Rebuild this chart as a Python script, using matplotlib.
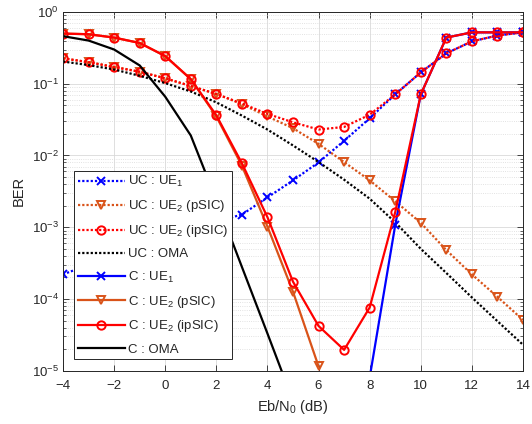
import numpy as np
import matplotlib
matplotlib.use("Agg")
import matplotlib.pyplot as plt
from matplotlib.ticker import FixedLocator, FuncFormatter, LogLocator, NullFormatter

plt.rcParams['font.family'] = ['Liberation Sans', 'DejaVu Sans']
plt.rcParams['mathtext.fontset'] = 'custom'
plt.rcParams['mathtext.rm'] = 'Liberation Sans'
plt.rcParams['mathtext.it'] = 'Liberation Sans:italic'
plt.rcParams['mathtext.bf'] = 'Liberation Sans:bold'

nan = np.nan
ebn0 = np.arange(-4, 15)

uc_ue1 = [2.2e-4, 3.0e-4, 4.0e-4, 5.3e-4, 7.0e-4, 9.0e-4, 1.2e-3, 1.5e-3, 2.6e-3, 4.5e-3,
          8.0e-3, 1.6e-2, 3.3e-2, 7.1e-2, 0.144, 0.265, 0.39, 0.47, 0.52]
uc_ue2_psic = [0.226, 0.20, 0.173, 0.147, 0.119, 0.093, 0.072, 0.052, 0.035, 0.024,
               0.0145, 0.0081, 0.0045, 0.0023, 1.15e-3, 4.8e-4, 2.2e-4, 1.07e-4, 5.1e-5]
uc_ue2_ipsic = [0.226, 0.20, 0.17, 0.147, 0.119, 0.093, 0.072, 0.053, 0.038, 0.029,
                0.023, 0.025, 0.037, 0.071, 0.144, 0.265, 0.39, 0.47, 0.52]
uc_oma = [0.204, 0.182, 0.158, 0.129, 0.102, 0.078, 0.055, 0.036, 0.023, 0.0138,
          0.0081, 0.0046, 0.0025, 1.17e-3, 5.0e-4, 2.3e-4, 1.05e-4, 4.9e-5, 2.3e-5]
c_ue1 = [nan, nan, nan, nan, nan, nan, nan, nan, nan, nan, nan, nan,
         8.0e-6, 1.07e-3, 0.071, 0.44, 0.52, 0.52, 0.52]
c_ue2_psic = [0.50, 0.49, 0.44, 0.37, 0.243, 0.116, 0.035, 7.2e-3, 1.02e-3, 1.26e-4,
              1.15e-5, nan, nan, nan, nan, nan, nan, nan, nan]
c_ue2_ipsic = [0.50, 0.49, 0.44, 0.37, 0.243, 0.116, 0.0363, 7.8e-3, 1.38e-3, 1.74e-4,
               4.2e-5, 1.95e-5, 7.6e-5, 1.62e-3, 0.071, 0.44, 0.52, 0.52, 0.52]
c_oma = [0.46, 0.40, 0.30, 0.18, 0.066, 0.019, 2.4e-3, 2.8e-4, 3.3e-5, 3.8e-6,
         nan, nan, nan, nan, nan, nan, nan, nan, nan]

labels = ['UC : UE$_1$', 'UC : UE$_2$ (pSIC)', 'UC : UE$_2$ (ipSIC)', 'UC : OMA',
          'C : UE$_1$', 'C : UE$_2$ (pSIC)', 'C : UE$_2$ (ipSIC)', 'C : OMA']
xticks = [-4, -2, 0, 2, 4, 6, 8, 10, 12, 14]
yticks = [1e-5, 1e-4, 1e-3, 1e-2, 1e-1, 1e0]

blue = (0, 0, 1)
orange = (0.85, 0.325, 0.098)
red = (1, 0, 0)
black = (0, 0, 0)
dotted = (0, (1.0, 0.9))

series = [
    (uc_ue1, blue, dotted, 'x'),
    (uc_ue2_psic, orange, dotted, 'v'),
    (uc_ue2_ipsic, red, dotted, 'o'),
    (uc_oma, black, dotted, None),
    (c_ue1, blue, '-', 'x'),
    (c_ue2_psic, orange, '-', 'v'),
    (c_ue2_ipsic, red, '-', 'o'),
    (c_oma, black, '-', None),
]

fig = plt.figure(figsize=(5.32, 4.24), dpi=100)
ax = fig.add_axes([63/532, 1 - 370.7/424, 460/532, 358.7/424])

for (vals, col, ls, mk), lab in zip(series, labels):
    ax.plot(ebn0, vals, color=col, linestyle=ls, marker=mk, lw=1.6,
            markersize=6, markerfacecolor='none', markeredgewidth=1.4, label=lab)

ax.set_yscale('log')
ax.set_xlim(-4, 14)
ax.set_ylim(1e-5, 1)
ax.xaxis.set_major_locator(FixedLocator(xticks))
ax.yaxis.set_major_locator(FixedLocator(yticks))
ax.yaxis.set_major_formatter(FuncFormatter(lambda v, p: '10$^{%d}$' % int(round(np.log10(v)))))
ax.yaxis.set_minor_locator(LogLocator(base=10, subs=np.arange(2, 10), numticks=20))
ax.yaxis.set_minor_formatter(NullFormatter())

tc = (0.15, 0.15, 0.15)
ax.tick_params(which='both', direction='in', top=True, right=True, colors=tc, labelsize=9.5)
ax.tick_params(which='major', length=4, width=0.6)
ax.tick_params(axis='x', which='major', pad=7)
ax.tick_params(axis='y', which='major', pad=3)
ax.tick_params(which='minor', length=2, width=0.5)
for s in ax.spines.values():
    s.set_color(tc)
    s.set_linewidth(0.7)

ax.grid(True, which='major', color=(0.85, 0.85, 0.85), lw=0.6, ls='-')
ax.grid(True, which='minor', axis='y', color=(0.85, 0.85, 0.85), lw=0.6, ls=':')
ax.set_axisbelow(True)

ax.set_xlabel('Eb/N$_0$ (dB)', fontsize=10.5, color=tc, labelpad=4)
ax.set_ylabel('BER', fontsize=10.5, color=tc, labelpad=4)

leg = ax.legend(loc='lower left', bbox_to_anchor=(0.0246, 0.0326), borderaxespad=0,
                fontsize=9.5, handlelength=3.6, handletextpad=0.25, labelspacing=0.68,
                borderpad=0.25, fancybox=False, framealpha=1, edgecolor=tc, numpoints=1)
leg.get_frame().set_linewidth(0.7)
for t in leg.get_texts():
    t.set_color(tc)

fig.savefig('out.png', dpi=100)
